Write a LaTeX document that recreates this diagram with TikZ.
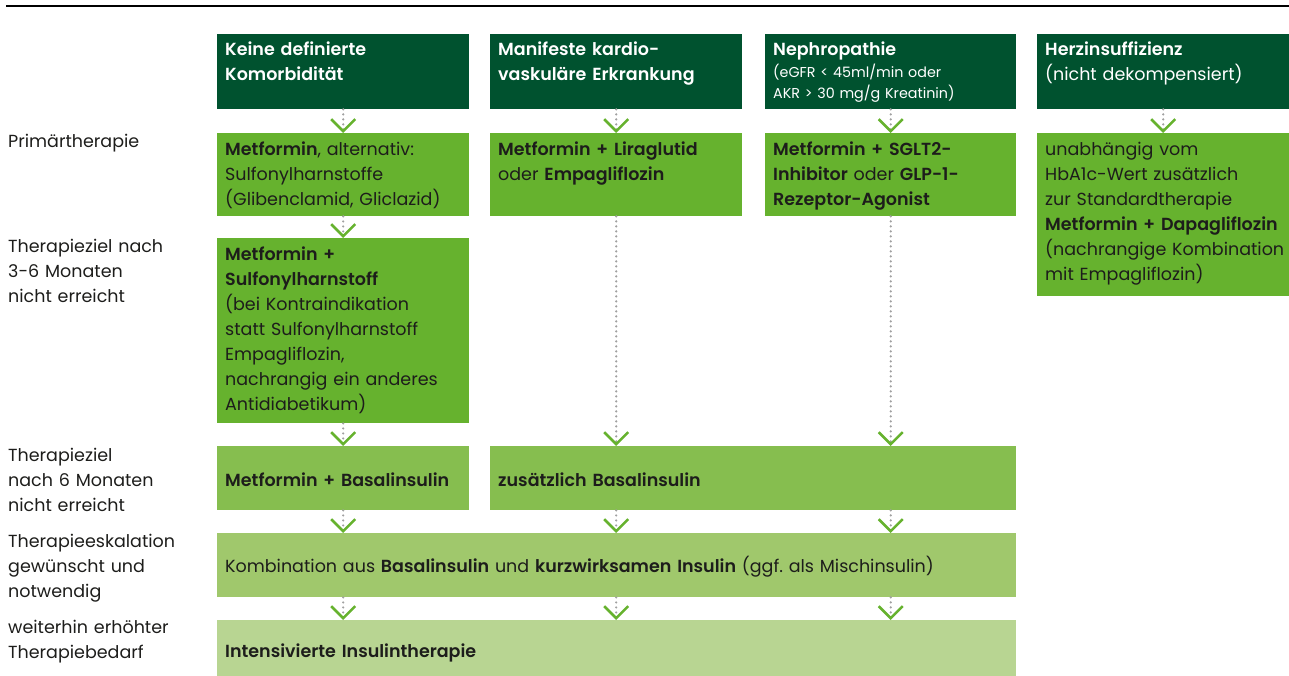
\documentclass[tikz,border=0pt]{standalone}
\usepackage{fontspec}
\setmainfont{Poppins}[BoldFont={Poppins SemiBold}]
\usetikzlibrary{arrows.meta}
\definecolor{hdr}{HTML}{00522F}
\definecolor{lvlA}{HTML}{66B22E}
\definecolor{lvlB}{HTML}{86BE4F}
\definecolor{lvlC}{HTML}{A0C86C}
\definecolor{lvlD}{HTML}{B8D592}
\definecolor{ink}{HTML}{1D1D1B}
\definecolor{dotgray}{HTML}{A0A0A0}
\definecolor{chev}{HTML}{66B22E}
\tikzset{
  box/.style={rectangle, draw=none, inner sep=0pt, anchor=north west},
  txt/.style={anchor=base west, inner sep=0pt, text width=300pt, align=left,
    font=\fontsize{17.5}{25}\selectfont, text=ink},
  hdrtxt/.style={txt, text=white, font=\fontsize{17.5}{25}\selectfont\bfseries},
  small/.style={font=\fontsize{14.3}{21}\selectfont},
  flow/.style={draw=dotgray, line width=2.4pt, line cap=round,
    dash pattern=on 0pt off 5pt,
    -{Straight Barb[color=chev, length=12pt, width=24pt, line width=2.6pt, line cap=butt, line join=miter]}},
}
\frenchspacing
\begin{document}
\begin{tikzpicture}[x=1pt,y=-1pt]
\useasboundingbox (0,0) rectangle (1289,675);
\draw[line width=2.6pt, black] (6,6) -- (1289,6);

% header row
\node[box, fill=hdr, minimum width=252pt, minimum height=75pt] (h1) at (217,34) {};
\node[box, fill=hdr, minimum width=252pt, minimum height=75pt] (h2) at (490,34) {};
\node[box, fill=hdr, minimum width=251pt, minimum height=75pt] (h3) at (765,34) {};
\node[box, fill=hdr, minimum width=252pt, minimum height=75pt] (h4) at (1037,34) {};
\node[hdrtxt] (h1t) at ([shift={(8,21)}]h1.north west) {Keine definierte\\Komorbidität};
\node[hdrtxt] (h2t) at ([shift={(8,21)}]h2.north west) {Manifeste kardio-\\vaskuläre Erkrankung};
\node[hdrtxt] (h3t) at ([shift={(8,21)}]h3.north west) {Nephropathie};
\node[txt, small, text=white] (h3s) at ([shift={(8,43)}]h3.north west) {(eGFR < 45ml/min oder\\AKR > 30 mg/g Kreatinin)};
\node[txt, text=white] (h4t) at ([shift={(8,21)}]h4.north west) {\textbf{Herzinsuffizienz}\\(nicht dekompensiert)};

% primary therapy
\node[box, fill=lvlA, minimum width=252pt, minimum height=83pt] (p1) at (217,133) {};
\node[box, fill=lvlA, minimum width=252pt, minimum height=83pt] (p2) at (490,133) {};
\node[box, fill=lvlA, minimum width=251pt, minimum height=83pt] (p3) at (765,133) {};
\node[box, fill=lvlA, minimum width=252pt, minimum height=163pt] (p4) at (1037,133) {};
\node[txt] (p1t) at ([shift={(8,22)}]p1.north west) {\textbf{Metformin}, alternativ:\\Sulfonylharnstoffe\\(Glibenclamid, Gliclazid)};
\node[txt] (p2t) at ([shift={(8,22)}]p2.north west) {\textbf{Metformin + Liraglutid}\\oder \textbf{Empagliflozin}};
\node[txt] (p3t) at ([shift={(8,22)}]p3.north west) {\textbf{Metformin + SGLT2-}\\\textbf{Inhibitor} oder \textbf{GLP-1-}\\\textbf{Rezeptor-Agonist}};
\node[txt] (p4t) at ([shift={(8,22)}]p4.north west) {unabhängig vom\\HbA1c-Wert zusätzlich\\zur Standardtherapie\\\textbf{Metformin + Dapagliflozin}\\(nachrangige Kombination\\mit Empagliflozin)};

% second step, first column
\node[box, fill=lvlA, minimum width=252pt, minimum height=185pt] (s1) at (217,238) {};
\node[txt] (s1t) at ([shift={(8,22)}]s1.north west) {\textbf{Metformin +}\\\textbf{Sulfonylharnstoff}\\(bei Kontraindikation\\statt Sulfonylharnstoff\\Empagliflozin,\\nachrangig ein anderes\\Antidiabetikum)};

% basal insulin
\node[box, fill=lvlB, minimum width=252pt, minimum height=64pt] (b1) at (217,446) {};
\node[box, fill=lvlB, minimum width=526pt, minimum height=64pt] (b2) at (490,446) {};
\node[txt] (b1t) at ([shift={(8,40)}]b1.north west) {\textbf{Metformin + Basalinsulin}};
\node[txt] (b2t) at ([shift={(8,40)}]b2.north west) {\textbf{zusätzlich Basalinsulin}};

% escalation
\node[box, fill=lvlC, minimum width=799pt, minimum height=64pt] (e1) at (217,533) {};
\node[txt, text width=780pt] (e1t) at ([shift={(8,39)}]e1.north west) {Kombination aus \textbf{Basalinsulin} und \textbf{kurzwirksamen Insulin} (ggf. als Mischinsulin)};

% intensified therapy
\node[box, fill=lvlD, minimum width=799pt, minimum height=56pt] (i1) at (217,620) {};
\node[txt] (i1t) at ([shift={(8,37)}]i1.north west) {\textbf{Intensivierte Insulintherapie}};

% row labels
\node[txt] (l1) at (8,147) {Primärtherapie};
\node[txt] (l2) at (8,252) {Therapieziel nach\\3-6 Monaten\\nicht erreicht};
\node[txt] (l3) at (8,461) {Therapieziel\\nach 6 Monaten\\nicht erreicht};
\node[txt] (l4) at (8,547) {Therapieeskalation\\gewünscht und\\notwendig};
\node[txt] (l5) at (8,633) {weiterhin erhöhter\\Therapiebedarf};

% connectors
\draw[flow] (h1.south) -- (p1.north);
\draw[flow] (h2.south) -- (p2.north);
\draw[flow] (h3.south) -- (p3.north);
\draw[flow] (h4.south) -- (p4.north);
\draw[flow] (p1.south) -- (s1.north);
\draw[flow] (p2.south) -- (p2.south |- b2.north);
\draw[flow] (p3.south) -- (p3.south |- b2.north);
\draw[flow] (s1.south) -- (b1.north);
\draw[flow] (b1.south) -- (b1.south |- e1.north);
\draw[flow] (p2.south |- b2.south) -- (p2.south |- e1.north);
\draw[flow] (p3.south |- b2.south) -- (p3.south |- e1.north);
\draw[flow] (b1.south |- e1.south) -- (b1.south |- i1.north);
\draw[flow] (p2.south |- e1.south) -- (p2.south |- i1.north);
\draw[flow] (p3.south |- e1.south) -- (p3.south |- i1.north);
\end{tikzpicture}
\end{document}
